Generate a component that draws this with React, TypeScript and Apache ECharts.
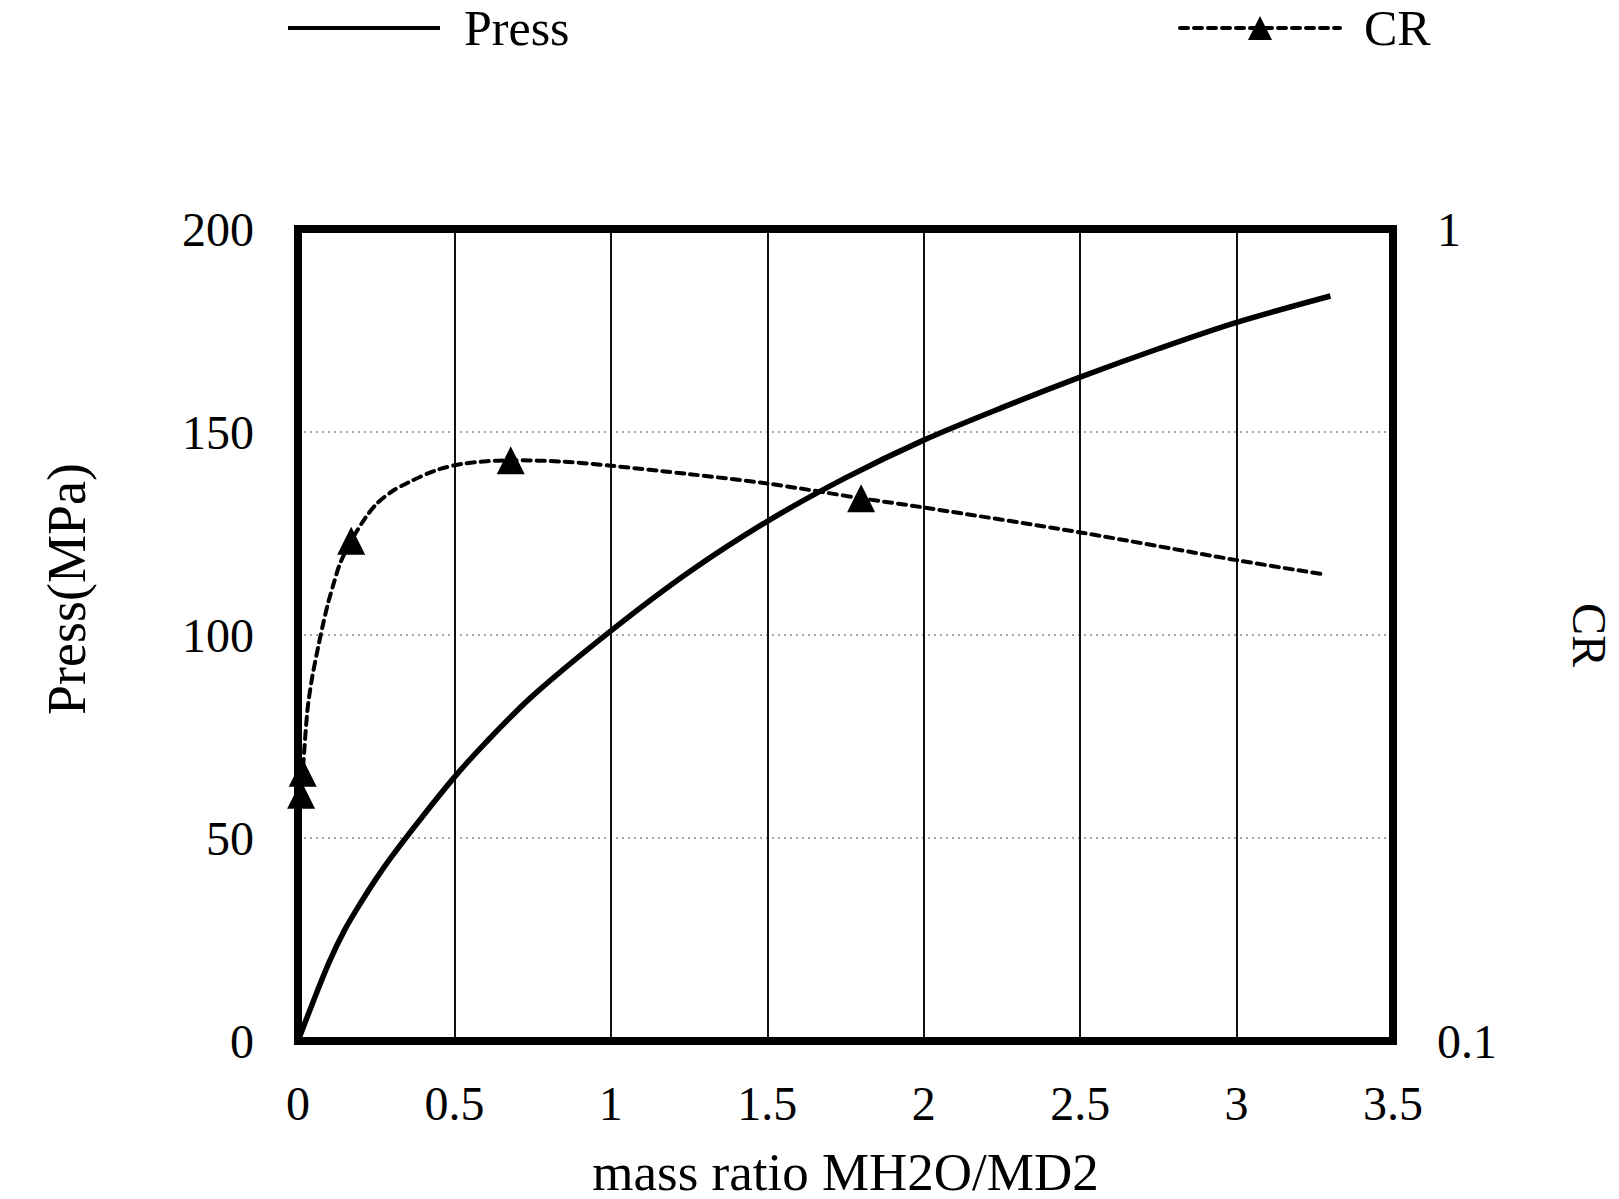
import React, { useEffect, useRef } from "react";
import * as echarts from "echarts";

const xTicks = ["0", "0.5", "1", "1.5", "2", "2.5", "3", "3.5"];

// Press (MPa) curve: [mass ratio, pressure]
const pressX = [0, 0.05, 0.1, 0.15, 0.2, 0.25, 0.3, 0.4, 0.5, 0.6, 0.75, 1.0, 1.25, 1.5, 1.75, 2.0, 2.25, 2.5, 2.75, 3.0, 3.3];
const pressY = [0, 10, 19.5, 27.5, 34, 40, 45.5, 55.5, 65, 73.5, 85, 101, 115.5, 128, 138.7, 148, 156, 163.5, 170.5, 177, 183.5];

// CR curve: [mass ratio, CR]; marked = triangle drawn at that point
const crX = [0.01, 0.015, 0.03, 0.045, 0.064, 0.08, 0.096, 0.115, 0.134, 0.17, 0.214, 0.252, 0.3, 0.351, 0.438, 0.527, 0.68, 0.85, 1.0, 1.25, 1.5, 1.8, 2.0, 2.5, 3.0, 3.27];
const crY = [0.201, 0.214, 0.255, 0.28, 0.305, 0.326, 0.346, 0.367, 0.387, 0.413, 0.44, 0.459, 0.475, 0.487, 0.504, 0.514, 0.519, 0.517, 0.511, 0.499, 0.486, 0.466, 0.454, 0.423, 0.391, 0.376];
const crMarked = [true, true, false, false, false, false, false, false, false, true, false, false, false, false, false, false, true, false, false, false, false, true, false, false, false, false];

const FONT = "'Liberation Serif', 'Times New Roman', 'DejaVu Serif', serif";

export default function App() {
  const ref = useRef<HTMLDivElement>(null);

  useEffect(() => {
    if (!ref.current) return;
    document.body.style.margin = "0";
    document.body.style.overflow = "hidden";
    document.documentElement.style.overflow = "hidden";
    const chart = echarts.init(ref.current, undefined, { renderer: "svg" });

    const pressData = pressX.map((x, i) => [x, pressY[i]]);
    const crData = crX.map((x, i) =>
      crMarked[i] ? { value: [x, crY[i]] } : { value: [x, crY[i]], symbol: "none" }
    );

    chart.setOption({
      animation: false,
      backgroundColor: "#ffffff",
      textStyle: { fontFamily: FONT, color: "#000" },
      legend: [
        {
          data: [{ name: "Press", icon: "rect" }],
          left: 283,
          top: -2,
          itemWidth: 152,
          itemHeight: 4,
          itemStyle: { color: "#000" },
          textStyle: { fontFamily: FONT, fontSize: 50, color: "#000", padding: [0, 0, 0, 19] },
          selectedMode: false,
        },
        {
          data: ["CR"],
          left: 1173,
          top: -2,
          itemWidth: 160,
          itemHeight: 30,
          lineStyle: { width: 4, type: [8, 6], color: "#000" },
          textStyle: { fontFamily: FONT, fontSize: 50, color: "#000", padding: [0, 0, 0, 19] },
          selectedMode: false,
        },
      ],
      grid: {
        left: 298,
        top: 229,
        right: 226,
        bottom: 158,
        show: true,
        z: 4,
        containLabel: false,
        outerBoundsMode: "none",
        borderColor: "#000",
        borderWidth: 8,
        backgroundColor: "transparent",
      },
      graphic: [
        {
          type: "text",
          x: 67,
          y: 589,
          rotation: Math.PI / 2,
          style: {
            text: "Press(MPa)",
            font: `54px ${FONT}`,
            fill: "#000",
            align: "center",
            verticalAlign: "middle",
            textAlign: "center",
            textVerticalAlign: "middle",
          },
        },
      ],
      xAxis: {
        type: "value",
        min: 0,
        max: 3.5,
        interval: 0.5,
        name: "mass ratio MH2O/MD2",
        nameLocation: "middle",
        nameGap: 104,
        nameTextStyle: { fontFamily: FONT, fontSize: 53, color: "#000" },
        axisLine: { show: false },
        axisTick: { show: false },
        axisLabel: {
          fontFamily: FONT,
          fontSize: 48,
          color: "#000",
          margin: 38,
          formatter: (v: number) => xTicks[Math.round(v / 0.5)] ?? String(v),
        },
        splitLine: { show: true, lineStyle: { color: "#111", width: 2, type: "solid" } },
      },
      yAxis: [
        {
          type: "value",
          min: 0,
          max: 200,
          interval: 50,
          axisLine: { show: false },
          axisTick: { show: false },
          axisLabel: { fontFamily: FONT, fontSize: 48, color: "#000", margin: 44 },
          splitLine: { show: true, lineStyle: { color: "#888", width: 1.5, type: [2, 4] } },
        },
        {
          type: "log",
          logBase: 10,
          min: 0.1,
          max: 1,
          position: "right",
          name: "CR",
          nameLocation: "middle",
          nameRotate: -90,
          nameGap: 172,
          nameTextStyle: { fontFamily: FONT, fontSize: 48, color: "#000" },
          axisLine: { show: false },
          axisTick: { show: false },
          axisLabel: { fontFamily: FONT, fontSize: 48, color: "#000", margin: 44 },
          splitLine: { show: false },
        },
      ],
      series: [
        {
          name: "Press",
          type: "line",
          yAxisIndex: 0,
          data: pressData,
          smooth: 0.3,
          symbol: "none",
          lineStyle: { color: "#000", width: 5.5, type: "solid" },
          itemStyle: { color: "#000" },
          z: 5,
        },
        {
          name: "CR",
          type: "line",
          yAxisIndex: 1,
          data: crData,
          smooth: 0.3,
          symbol: "triangle",
          symbolSize: 28,
          showAllSymbol: true,
          lineStyle: { color: "#000", width: 4, type: [8, 6], cap: "round" },
          itemStyle: { color: "#000" },
          z: 6,
        },
      ],
    });

    return () => chart.dispose();
  }, []);

  return (
    <div
      ref={ref}
      style={{ position: "relative", width: 1619, height: 1199, background: "#fff" }}
    />
  );
}
